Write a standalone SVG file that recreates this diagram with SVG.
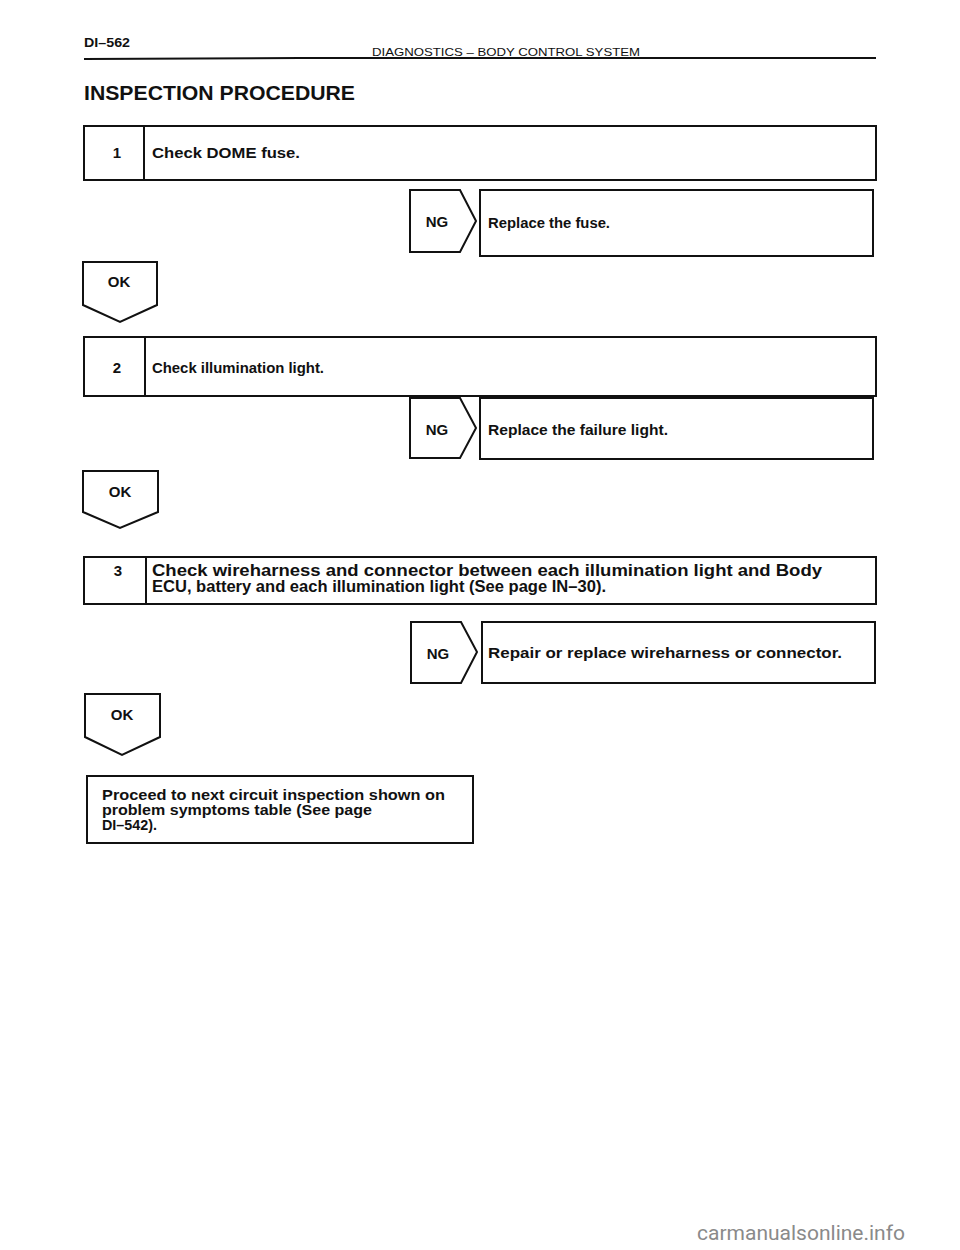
<svg xmlns="http://www.w3.org/2000/svg" width="960" height="1250" viewBox="0 0 960 1250">
<style>
.box{fill:#fff;stroke:#111;stroke-width:2}
.t{font-family:"Liberation Sans",Arial,sans-serif;font-weight:bold;fill:#111}
.s{font-size:14px}
.m{font-size:16px}
.p{font-size:15px}
.n{font-size:15px;text-anchor:middle}
.h{font-family:"Liberation Sans",Arial,sans-serif;font-weight:normal;fill:#111}
</style>
<rect width="960" height="1250" fill="#fff"/>
<g id="header">
<text class="t" x="84" y="47" font-size="13" textLength="46" lengthAdjust="spacingAndGlyphs">DI–562</text>
<text class="h" x="372" y="56" font-size="11" textLength="268" lengthAdjust="spacingAndGlyphs">DIAGNOSTICS  –  BODY CONTROL SYSTEM</text>
<path d="M84 59 L300 58 L876 58" stroke="#111" stroke-width="2" fill="none"/>
<text class="t" x="84" y="100" font-size="20" textLength="271" lengthAdjust="spacingAndGlyphs">INSPECTION PROCEDURE</text>
</g>
<g id="step1">
<rect class="box" x="84" y="126" width="792" height="54"/>
<line x1="144" y1="126" x2="144" y2="180" stroke="#111" stroke-width="2"/>
<text class="t n" x="117" y="158">1</text>
<text class="t s" x="152" y="158" textLength="148" lengthAdjust="spacingAndGlyphs">Check DOME fuse.</text>
</g>
<g id="ng1">
<polygon class="box" points="410,190 460,190 476,221 460,252 410,252"/>
<text class="t n" x="437" y="227" font-size="14">NG</text>
</g>
<g id="fix1">
<rect class="box" x="480" y="190" width="393" height="66"/>
<text class="t s" x="488" y="228" font-size="13" textLength="122" lengthAdjust="spacingAndGlyphs">Replace the fuse.</text>
</g>
<g id="ok1">
<polygon class="box" points="83,262 157,262 157,305 120,322 83,305"/>
<text class="t n" x="119" y="287" font-size="14">OK</text>
</g>
<g id="step2">
<rect class="box" x="84" y="337" width="792" height="59"/>
<line x1="145" y1="337" x2="145" y2="396" stroke="#111" stroke-width="2"/>
<text class="t n" x="117" y="373">2</text>
<text class="t s" x="152" y="373" textLength="172" lengthAdjust="spacingAndGlyphs">Check illumination light.</text>
</g>
<g id="ng2">
<polygon class="box" points="410,398 460,398 476,428 460,458 410,458"/>
<text class="t n" x="437" y="435" font-size="14">NG</text>
</g>
<g id="fix2">
<rect class="box" x="480" y="398" width="393" height="61"/>
<text class="t s" x="488" y="435" font-size="13" textLength="180" lengthAdjust="spacingAndGlyphs">Replace the failure light.</text>
</g>
<g id="ok2">
<polygon class="box" points="83,471 158,471 158,512 120,528 83,512"/>
<text class="t n" x="120" y="497" font-size="14">OK</text>
</g>
<g id="step3">
<rect class="box" x="84" y="557" width="792" height="47"/>
<line x1="146" y1="557" x2="146" y2="604" stroke="#111" stroke-width="2"/>
<text class="t n" x="118" y="576">3</text>
<text class="t m" x="152" y="576" textLength="670" lengthAdjust="spacingAndGlyphs">Check wireharness and connector between each illumination light and Body</text>
<text class="t m" x="152" y="592" textLength="454" lengthAdjust="spacingAndGlyphs">ECU, battery and each illumination light (See page IN–30).</text>
</g>
<g id="ng3">
<polygon class="box" points="411,622 461,622 477,652 461,683 411,683"/>
<text class="t n" x="438" y="659" font-size="14">NG</text>
</g>
<g id="fix3">
<rect class="box" x="482" y="622" width="393" height="61"/>
<text class="t s" x="488" y="658" font-size="13" textLength="354" lengthAdjust="spacingAndGlyphs">Repair or replace wireharness or connector.</text>
</g>
<g id="ok3">
<polygon class="box" points="85,694 160,694 160,737 122,755 85,737"/>
<text class="t n" x="122" y="720" font-size="14">OK</text>
</g>
<g id="proceed">
<rect class="box" x="87" y="776" width="386" height="67"/>
<text class="t p" x="102" y="800" textLength="343" lengthAdjust="spacingAndGlyphs">Proceed to next circuit inspection shown on</text>
<text class="t p" x="102" y="815" textLength="270" lengthAdjust="spacingAndGlyphs">problem symptoms table (See page</text>
<text class="t p" x="102" y="830" textLength="55" lengthAdjust="spacingAndGlyphs">DI–542).</text>
</g>
<g id="connectors"></g>
<text x="905" y="1240" font-family="Roboto,'Liberation Sans',sans-serif" font-size="21" fill="#8a8a8a" text-anchor="end">carmanualsonline.info</text>
</svg>
